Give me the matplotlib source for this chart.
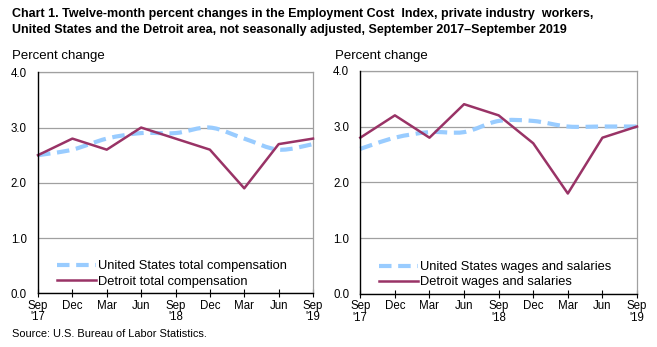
import matplotlib
matplotlib.use("Agg")
import matplotlib.pyplot as plt
from matplotlib.path import Path
from matplotlib.patches import PathPatch
from matplotlib.lines import Line2D

months = ["Sep\n'17", "Dec", "Mar", "Jun", "Sep\n'18", "Dec", "Mar", "Jun", "Sep\n'19"]

us_total_comp = [2.5, 2.6, 2.8, 2.9, 2.9, 3.0, 2.8, 2.6, 2.7]
detroit_total_comp = [2.5, 2.8, 2.6, 3.0, 2.8, 2.6, 1.9, 2.7, 2.8]

us_wages = [2.6, 2.8, 2.9, 2.9, 3.1, 3.1, 3.0, 3.0, 3.0]
detroit_wages = [2.8, 3.2, 2.8, 3.4, 3.2, 2.7, 1.8, 2.8, 3.0]

plt.rcParams['font.family'] = ['Liberation Sans', 'DejaVu Sans']

US_COLOR = "#99CCFF"
DET_COLOR = "#993366"
US_DASH = (0, (3, 1.6))

fig = plt.figure(figsize=(6.57, 3.47), dpi=100)

fig.text(12 / 657, 1 - 14 / 347,
         "Chart 1. Twelve-month percent changes in the Employment Cost  Index, private industry  workers,",
         fontsize=9, fontweight='bold', va='center', ha='left')
fig.text(12 / 657, 1 - 30 / 347,
         "United States and the Detroit area, not seasonally adjusted, September 2017\u2013September 2019",
         fontsize=9, fontweight='bold', va='center', ha='left')


def smooth_path(xs, ys):
    # excel style smoothed line: cubic bezier segments through the data points
    n = len(xs)
    verts = [(xs[0], ys[0])]
    codes = [Path.MOVETO]
    for i in range(n - 1):
        x0, y0 = xs[max(i - 1, 0)], ys[max(i - 1, 0)]
        x1, y1 = xs[i], ys[i]
        x2, y2 = xs[i + 1], ys[i + 1]
        x3, y3 = xs[min(i + 2, n - 1)], ys[min(i + 2, n - 1)]
        c1 = (x1 + (x2 - x0) / 6, y1 + (y2 - y0) / 6)
        c2 = (x2 - (x3 - x1) / 6, y2 - (y3 - y1) / 6)
        verts += [c1, c2, (x2, y2)]
        codes += [Path.CURVE4] * 3
    return Path(verts, codes)


def draw_panel(rect, us, det, us_label, det_label):
    ax = fig.add_axes(rect)
    x = list(range(len(months)))
    ax.add_patch(PathPatch(smooth_path(x, us), fill=False, edgecolor=US_COLOR,
                           lw=3, ls=US_DASH, zorder=3, clip_on=False))
    ax.plot(x, det, color=DET_COLOR, lw=1.8, zorder=4, clip_on=False)
    ax.set_xlim(0, len(months) - 1)
    ax.set_ylim(0, 4)
    ax.set_yticks([0, 1, 2, 3, 4])
    ax.set_yticklabels(["0.0", "1.0", "2.0", "3.0", "4.0"], fontsize=8.3)
    ax.set_xticks(x)
    ax.set_xticklabels(months, fontsize=8.3, linespacing=0.95)
    ax.tick_params(axis='y', length=0, pad=8)
    ax.tick_params(axis='x', direction='inout', length=6, width=0.8, color='black', pad=1.5)
    ax.yaxis.grid(True, color='#A0A0A0', lw=0.9)
    ax.set_axisbelow(True)
    for side in ['top', 'right']:
        ax.spines[side].set_color('#A0A0A0')
        ax.spines[side].set_linewidth(0.9)
    for side in ['left', 'bottom']:
        ax.spines[side].set_color('black')
        ax.spines[side].set_linewidth(1.0)
        ax.spines[side].set_zorder(5)
    handles = [Line2D([], [], color=US_COLOR, lw=3, ls=US_DASH),
               Line2D([], [], color=DET_COLOR, lw=1.8)]
    ax.legend(handles, [us_label, det_label], loc='lower left',
              bbox_to_anchor=(0.04, -0.01), frameon=False,
              fontsize=9.3, handlelength=3.0, handletextpad=0.2, labelspacing=0.25,
              borderaxespad=0.2)
    return ax


draw_panel([38 / 657, 1 - 293.3 / 347, (313 - 38) / 657, (293.3 - 72.3) / 347],
           us_total_comp, detroit_total_comp,
           "United States total compensation", "Detroit total compensation")
draw_panel([360.3 / 657, 1 - 294 / 347, (637 - 360.3) / 657, (294 - 70.7) / 347],
           us_wages, detroit_wages,
           "United States wages and salaries", "Detroit wages and salaries")

fig.text(12 / 657, 1 - 56 / 347, "Percent change", fontsize=9.5, va='center', ha='left')
fig.text(335 / 657, 1 - 56 / 347, "Percent change", fontsize=9.5, va='center', ha='left')
fig.text(12 / 657, 1 - 334 / 347, "Source: U.S. Bureau of Labor Statistics.", fontsize=7.9,
         va='center', ha='left')

fig.savefig("out.png", dpi=100)
